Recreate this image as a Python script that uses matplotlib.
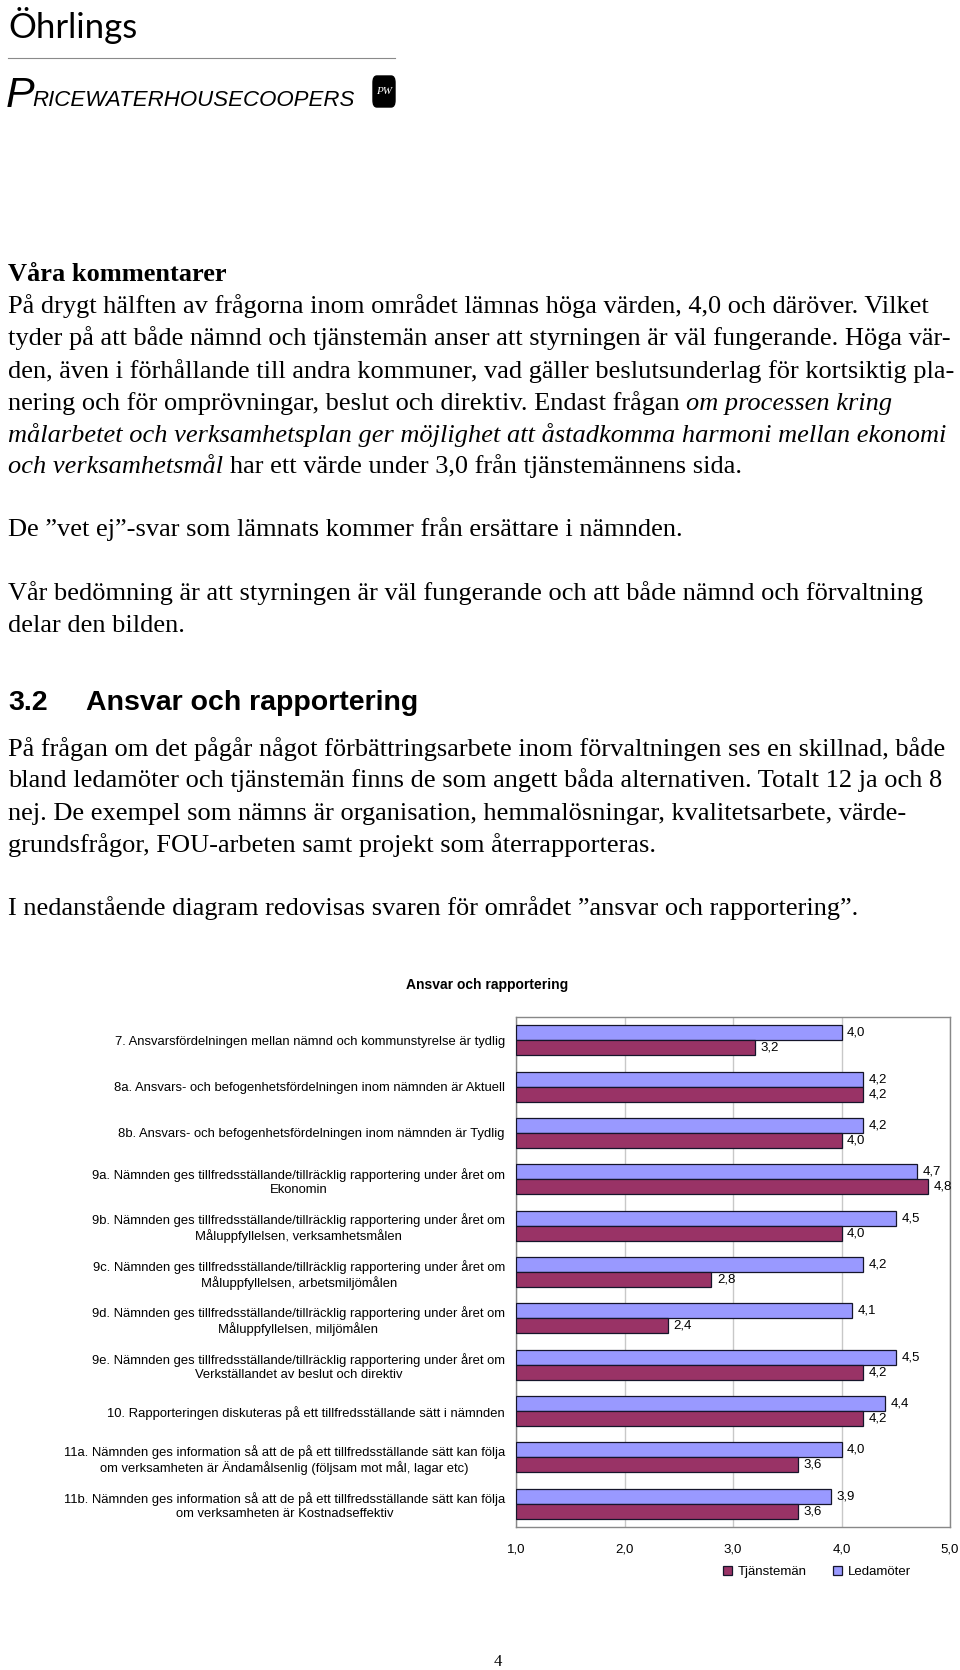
import matplotlib
matplotlib.use('Agg')
import matplotlib.pyplot as plt
from matplotlib import font_manager
from matplotlib.lines import Line2D
from matplotlib.patches import FancyBboxPatch
import numpy as np

# chart data
categories = [
    "7. Ansvarsfördelningen mellan nämnd och kommunstyrelse är tydlig",
    "8a. Ansvars- och befogenhetsfördelningen inom nämnden är Aktuell",
    "8b. Ansvars- och befogenhetsfördelningen inom nämnden är Tydlig",
    "9a. Nämnden ges tillfredsställande/tillräcklig rapportering under året om\nEkonomin",
    "9b. Nämnden ges tillfredsställande/tillräcklig rapportering under året om\nMåluppfyllelsen, verksamhetsmålen",
    "9c. Nämnden ges tillfredsställande/tillräcklig rapportering under året om\nMåluppfyllelsen, arbetsmiljömålen",
    "9d. Nämnden ges tillfredsställande/tillräcklig rapportering under året om\nMåluppfyllelsen, miljömålen",
    "9e. Nämnden ges tillfredsställande/tillräcklig rapportering under året om\nVerkställandet av beslut och direktiv",
    "10. Rapporteringen diskuteras på ett tillfredsställande sätt i nämnden",
    "11a. Nämnden ges information så att de på ett tillfredsställande sätt kan följa\nom verksamheten är Ändamålsenlig (följsam mot mål, lagar etc)",
    "11b. Nämnden ges information så att de på ett tillfredsställande sätt kan följa\nom verksamheten är Kostnadseffektiv",
]
ledamoter = [4.0, 4.2, 4.2, 4.7, 4.5, 4.2, 4.1, 4.5, 4.4, 4.0, 3.9]
tjansteman = [3.2, 4.2, 4.0, 4.8, 4.0, 2.8, 2.4, 4.2, 4.2, 3.6, 3.6]
x_ticks = [1, 2, 3, 4, 5]

W, H = 960, 1670
SERIF = 'Liberation Serif'
SANS = 'Liberation Sans'
BODY = 19

plt.rcParams['font.family'] = [SANS, 'DejaVu Sans']

fig = plt.figure(figsize=(9.6, 16.7), dpi=100)
renderer = fig.canvas.get_renderer()


def fx(x):
    return x / W


def fy(y):
    return 1 - y / H


def width_of(txt, **kw):
    t = fig.text(0, 0, txt, **kw)
    w = t.get_window_extent(renderer).width
    t.remove()
    return w


def line(x, y, parts, size=BODY):
    # parts separated by one space, each (text, style)
    sp = width_of('a a', family=SERIF, fontsize=size) - width_of('aa', family=SERIF, fontsize=size)
    for txt, style in parts:
        t = fig.text(fx(x), fy(y), txt, family=SERIF, style=style, fontsize=size,
                     va='baseline', ha='left')
        x += t.get_window_extent(renderer).width + sp


# --- logo ---
fig.text(fx(8), fy(38), 'Öhrlings', family='Lato', fontsize=25,
         va='baseline', ha='left')
fig.add_artist(Line2D([fx(8), fx(395)], [fy(58), fy(58)], color='#8a8a8a', lw=0.8))

names = {f.name for f in font_manager.fontManager.ttflist}
logo_font = 'Liberation Sans Narrow' if 'Liberation Sans Narrow' in names else SANS
tp = fig.text(fx(6), fy(107), 'P', family=logo_font, style='italic', fontsize=31,
              va='baseline', ha='left')
px = 6 + tp.get_window_extent(renderer).width - 2
fig.text(fx(px), fy(106), 'RICEWATERHOUSECOOPERS', family=logo_font, style='italic',
         fontsize=19 if logo_font != SANS else 16, va='baseline', ha='left')
fig.add_artist(FancyBboxPatch((fx(373), fy(107)), fx(22), 31 / H,
                              boxstyle='round,pad=0,rounding_size=0.004',
                              transform=fig.transFigure, fc='black', ec='black'))
fig.text(fx(384), fy(91), 'PW', color='white', family=SERIF, style='italic', fontsize=8,
         ha='center', va='center')

# --- body text ---
fig.text(fx(8), fy(281), 'Våra kommentarer', family=SERIF, fontweight='bold', fontsize=BODY,
         va='baseline')
line(8, 313, [('På drygt hälften av frågorna inom området lämnas höga värden, 4,0 och däröver. Vilket', 'normal')])
line(8, 345, [('tyder på att både nämnd och tjänstemän anser att styrningen är väl fungerande. Höga vär-', 'normal')])
line(8, 378, [('den, även i förhållande till andra kommuner, vad gäller beslutsunderlag för kortsiktig pla-', 'normal')])
line(8, 410, [('nering och för omprövningar, beslut och direktiv. Endast frågan', 'normal'),
              ('om processen kring', 'italic')])
line(8, 442, [('målarbetet och verksamhetsplan ger möjlighet att åstadkomma harmoni mellan ekonomi', 'italic')])
line(8, 473, [('och verksamhetsmål', 'italic'),
              ('har ett värde under 3,0 från tjänstemännens sida.', 'normal')])
line(8, 536, [('De ”vet ej”-svar som lämnats kommer från ersättare i nämnden.', 'normal')])
line(8, 600, [('Vår bedömning är att styrningen är väl fungerande och att både nämnd och förvaltning', 'normal')])
line(8, 632, [('delar den bilden.', 'normal')])

fig.text(fx(8), fy(710), '3.2', family=SANS, fontweight='bold', fontsize=20.5, va='baseline')
fig.text(fx(86), fy(710), 'Ansvar och rapportering', family=SANS, fontweight='bold',
         fontsize=20.5, va='baseline')

line(8, 756, [('På frågan om det pågår något förbättringsarbete inom förvaltningen ses en skillnad, både', 'normal')])
line(8, 787, [('bland ledamöter och tjänstemän finns de som angett båda alternativen. Totalt 12 ja och 8', 'normal')])
line(8, 820, [('nej. De exempel som nämns är organisation, hemmalösningar, kvalitetsarbete, värde-', 'normal')])
line(8, 852, [('grundsfrågor, FOU-arbeten samt projekt som återrapporteras.', 'normal')])
line(8, 915, [('I nedanstående diagram redovisas svaren för området ”ansvar och rapportering”.', 'normal')])

# --- chart ---
fig.text(fx(487), fy(985), 'Ansvar och rapportering', family=SANS, fontweight='bold',
         fontsize=10, ha='center', va='center')

ax = fig.add_axes([fx(516), fy(1527), fx(950) - fx(516), (1527 - 1017) / H])
y = np.arange(len(categories))
h = 0.323
led = np.array(ledamoter)
tj = np.array(tjansteman)
b_led = ax.barh(y - h / 2, led - 1, left=1, height=h, color='#9999ff',
                edgecolor='#15152a', linewidth=0.9, label='Ledamöter', zorder=3)
b_tj = ax.barh(y + h / 2, tj - 1, left=1, height=h, color='#993366',
               edgecolor='#15152a', linewidth=0.9, label='Tjänstemän', zorder=3)

for yy, v in zip(y - h / 2, led):
    ax.annotate(f'{v:.1f}'.replace('.', ','), xy=(v, yy), xytext=(4, 0),
                textcoords='offset points', va='center', ha='left', fontsize=9.5)
for yy, v in zip(y + h / 2, tj):
    ax.annotate(f'{v:.1f}'.replace('.', ','), xy=(v, yy), xytext=(4, 0),
                textcoords='offset points', va='center', ha='left', fontsize=9.5)

ax.set_xlim(1, 5)
ax.set_ylim(len(categories) - 0.5, -0.5)
ax.set_xticks(x_ticks)
ax.set_xticklabels([f'{t:.1f}'.replace('.', ',') for t in x_ticks], fontsize=9.5)
ax.set_yticks(y)
ax.set_yticklabels(categories, fontsize=9.4, multialignment='center')
ax.tick_params(axis='y', length=0, pad=8)
ax.tick_params(axis='x', length=0, pad=12)
ax.grid(axis='x', color='#c8c8c8', linewidth=1, zorder=0)
for s in ax.spines.values():
    s.set_color('#888888')
    s.set_linewidth(1)

fig.legend(handles=[b_tj, b_led], loc='center', bbox_to_anchor=(fx(817), fy(1572)),
           ncol=2, frameon=False, prop={'family': SANS, 'size': 9.5},
           handlelength=0.7, handleheight=0.7, handletextpad=0.4, columnspacing=2.0)

# page number
fig.text(fx(498), fy(1662), '4', family=SERIF, fontsize=12, ha='center', va='center')

fig.savefig('out.png', dpi=100)
